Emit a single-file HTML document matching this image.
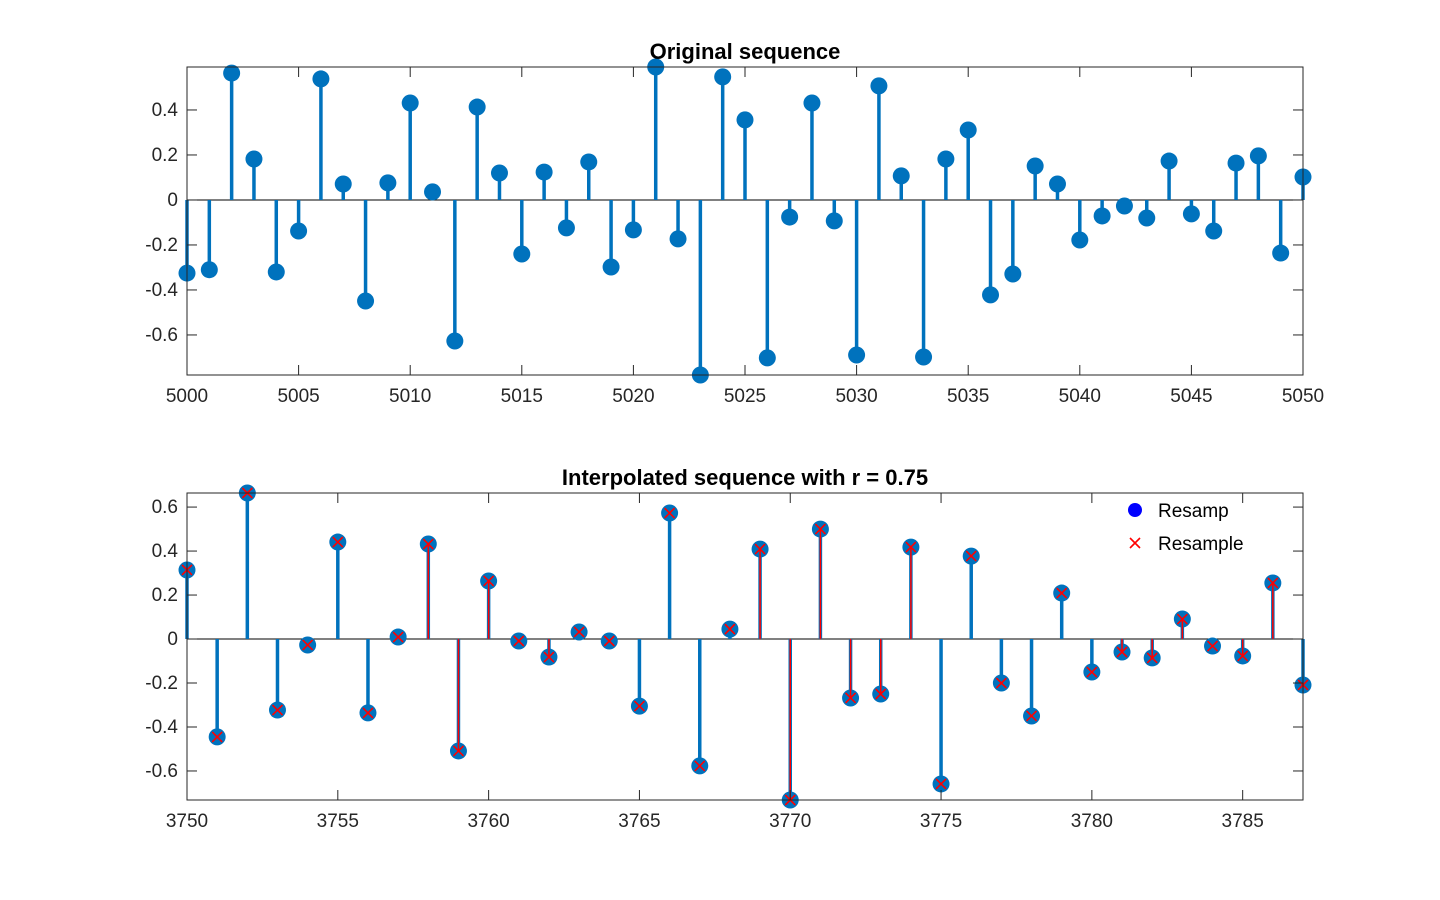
<!DOCTYPE html>
<html><head><meta charset="utf-8"><style>
html,body{margin:0;padding:0;background:#fff;}
svg{display:block;font-family:"Liberation Sans",Arial,sans-serif;}
</style></head><body>
<svg id="fig" width="1440" height="900"></svg>
<script>
const topX0 = 5000;
const topValues = [-0.325,-0.31,0.564,0.182,-0.32,-0.138,0.538,0.071,-0.449,0.076,0.431,0.036,-0.627,0.413,0.12,-0.24,0.124,-0.124,0.169,-0.298,-0.133,0.591,-0.173,-0.778,0.547,0.356,-0.702,-0.076,0.431,-0.093,-0.689,0.507,0.107,-0.698,0.182,0.311,-0.422,-0.329,0.151,0.071,-0.178,-0.071,-0.027,-0.08,0.173,-0.062,-0.138,0.164,0.196,-0.236,0.102];
const topXTicks = [5000,5005,5010,5015,5020,5025,5030,5035,5040,5045,5050];
const topYTicks = [-0.6,-0.4,-0.2,0,0.2,0.4];
const botX0 = 3750;
const botValues = [0.314,-0.445,0.664,-0.323,-0.027,0.441,-0.336,0.009,0.432,-0.509,0.264,-0.009,-0.082,0.032,-0.009,-0.305,0.573,-0.577,0.045,0.409,-0.732,0.5,-0.268,-0.25,0.418,-0.659,0.377,-0.2,-0.35,0.209,-0.15,-0.059,-0.086,0.091,-0.032,-0.077,0.255,-0.209];
const botRedStemIdx = [3758,3759,3760,3762,3769,3770,3771,3772,3773,3774,3781,3782,3783,3785,3786];
const botXTicks = [3750,3755,3760,3765,3770,3775,3780,3785];
const botYTicks = [-0.6,-0.4,-0.2,0,0.2,0.4,0.6];

const NS="http://www.w3.org/2000/svg";
const svg=document.getElementById('fig');
function mk(tag,attrs,parent){const e=document.createElementNS(NS,tag);for(const k in attrs)e.setAttribute(k,attrs[k]);(parent||svg).appendChild(e);return e;}
function fmt(v){if(v===0)return '0';return v.toFixed(1);}

function axes(cfg){
  const g=mk('g',{});
  
  
  const {L,R,T,B,xmin,xmax,ymin,ymax}=cfg;
  const sx=v=>L+(v-xmin)/(xmax-xmin)*(R-L);
  const sy=v=>B-(v-ymin)/(ymax-ymin)*(B-T);
  mk('rect',{x:L,y:T,width:R-L,height:B-T,fill:'#fff',stroke:'none'},g);
  const z=mk('line',{x1:L,x2:R,y1:sy(0),y2:sy(0),stroke:'#000','stroke-width':1},g);
  
  
  cfg.values.forEach((v,i)=>{
    const x=sx(cfg.x0+i);
    const s=mk('line',{x1:x,x2:x,y1:sy(0),y2:sy(v),stroke:'#0072BD','stroke-width':3.5},g);
    
    
  });
  cfg.values.forEach((v,i)=>{
    const x=sx(cfg.x0+i);
    const c=mk('circle',{cx:x,cy:sy(v),r:8.5,fill:'#0072BD'},g);
    
    
  });
  if(cfg.red){
    cfg.red.forEach(k=>{
      const i=k-cfg.x0;const v=cfg.values[i];const x=sx(k);
      const s=mk('line',{x1:x,x2:x,y1:sy(0),y2:sy(v),stroke:'#ff0000','stroke-width':1.5},g);
      
      
    });
    cfg.values.forEach((v,i)=>{
      const x=sx(cfg.x0+i),y=sy(v),d=5;
      const p=mk('path',{d:`M${x-d},${y-d}L${x+d},${y+d}M${x-d},${y+d}L${x+d},${y-d}`,stroke:'#ff0000','stroke-width':1.6,fill:'none'},g);
      
      
    });
  }
  mk('rect',{x:L,y:T,width:R-L,height:B-T,fill:'none',stroke:'#262626','stroke-width':1},g);
  cfg.xt.forEach(t=>{
    const x=sx(t);
    mk('line',{x1:x,x2:x,y1:B,y2:B-10,stroke:'#262626'},g);
    mk('line',{x1:x,x2:x,y1:T,y2:T+10,stroke:'#262626'},g);
    const tx=mk('text',{x:x,y:B+27,'text-anchor':'middle','font-size':19,fill:'#262626'},g);
    tx.textContent=t;
    
    
  });
  cfg.yt.forEach(t=>{
    const y=sy(t);
    mk('line',{x1:L,x2:L+10,y1:y,y2:y,stroke:'#262626'},g);
    mk('line',{x1:R,x2:R-10,y1:y,y2:y,stroke:'#262626'},g);
    const tx=mk('text',{x:L-9,y:y+6,'text-anchor':'end','font-size':19,fill:'#262626'},g);
    tx.textContent=fmt(t);
    
    
  });
  const ti=mk('text',{x:(L+R)/2,y:T-8,'text-anchor':'middle','font-size':22,'font-weight':'bold',fill:'#000'},g);
  ti.textContent=cfg.title;
  
  
  return g;
}
axes({name:'original-sequence-axes',L:187,R:1303,T:67,B:375,xmin:5000,xmax:5050,ymin:-0.778,ymax:0.591,x0:topX0,values:topValues,xt:topXTicks,yt:topYTicks,title:'Original sequence'});
axes({name:'interpolated-sequence-axes',L:187,R:1303,T:493,B:800,xmin:3750,xmax:3787,ymin:-0.732,ymax:0.664,x0:botX0,values:botValues,red:botRedStemIdx,xt:botXTicks,yt:botYTicks,title:'Interpolated sequence with r = 0.75'});

const lg=mk('g',{});


mk('circle',{cx:1135,cy:510,r:7,fill:'#0000ff'},lg);
const t1=mk('text',{x:1158,y:517,'font-size':19,fill:'#000'},lg);t1.textContent='Resamp';


mk('path',{d:'M1130,538L1140,548M1130,548L1140,538',stroke:'#ff0000','stroke-width':1.6},lg);
const t2=mk('text',{x:1158,y:550,'font-size':19,fill:'#000'},lg);t2.textContent='Resample';


</script>
</body></html>
